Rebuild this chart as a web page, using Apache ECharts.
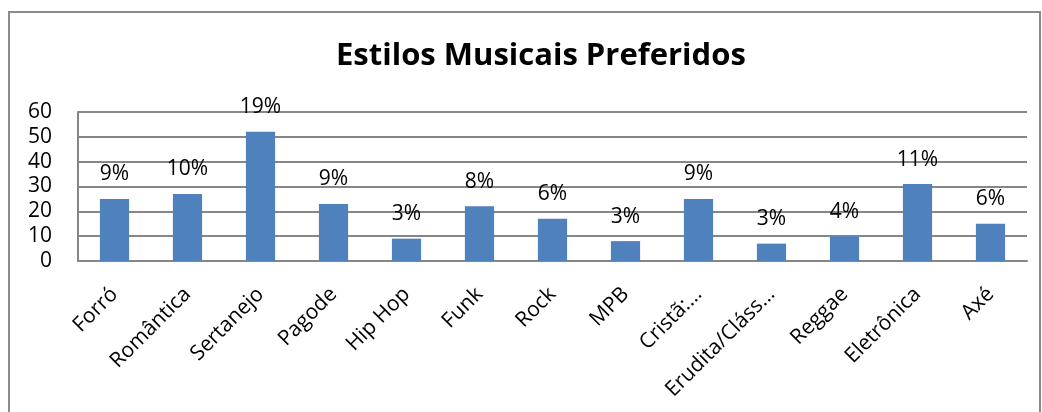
<!DOCTYPE html>
<html>
<head>
<meta charset="utf-8">
<script src="https://cdn.jsdelivr.net/npm/echarts@6/dist/echarts.min.js"></script>
<style>
  html, body { margin: 0; padding: 0; background: #fff; }
  #chart { width: 1042px; height: 412px; }
</style>
</head>
<body>
<div id="chart"></div>
<script>
// Estilos musicais preferidos: número de respostas por estilo
const categories = ['Forró', 'Romântica', 'Sertanejo', 'Pagode', 'Hip Hop', 'Funk', 'Rock', 'MPB', 'Cristã:…', 'Erudita/Cláss…', 'Reggae', 'Eletrônica', 'Axé'];
const values = [25, 27, 52, 23, 9, 22, 17, 8, 25, 7, 10, 31, 15];
const percentLabels = ['9%', '10%', '19%', '9%', '3%', '8%', '6%', '3%', '9%', '3%', '4%', '11%', '6%'];
const yTicks = [0, 10, 20, 30, 40, 50, 60];

const FONT = '"Open Sans", "Noto Sans", sans-serif';
const chart = echarts.init(document.getElementById('chart'), null, { renderer: 'canvas' });

chart.setOption({
  animation: false,
  backgroundColor: '#ffffff',
  title: {
    text: 'Estilos Musicais Preferidos',
    left: 331,
    top: 36,
    textStyle: { fontFamily: FONT, fontWeight: 'bold', fontSize: 31, color: '#000' }
  },
  graphic: [{
    type: 'rect',
    shape: { x: 9, y: 12, width: 1031, height: 420 },
    style: { fill: 'none', stroke: '#8a8a8a', lineWidth: 2 },
    silent: true
  }],
  grid: { left: 78, right: 15, top: 112, bottom: 151, containLabel: false },
  xAxis: {
    type: 'category',
    data: categories,
    axisLine: { show: true, lineStyle: { color: '#868686', width: 2 } },
    axisTick: { show: false },
    axisLabel: {
      interval: 0,
      rotate: 45,
      margin: 30,
      fontFamily: FONT,
      fontSize: 21,
      color: '#000'
    }
  },
  yAxis: {
    type: 'value',
    min: yTicks[0],
    max: yTicks[yTicks.length - 1],
    interval: 10,
    axisLine: { show: true, lineStyle: { color: '#868686', width: 2 } },
    axisTick: { show: false },
    splitLine: { show: true, lineStyle: { color: '#868686', width: 2 } },
    axisLabel: {
      margin: 26,
      fontFamily: FONT,
      fontSize: 21,
      color: '#000',
      formatter: v => (yTicks.includes(v) ? String(v) : '')
    }
  },
  series: [{
    type: 'bar',
    data: values,
    barWidth: '40%',
    itemStyle: { color: '#4F81BD' },
    label: {
      show: true,
      position: 'top',
      distance: 14,
      fontFamily: FONT,
      fontSize: 21,
      color: '#000',
      formatter: p => percentLabels[p.dataIndex]
    }
  }]
});
</script>
</body>
</html>
